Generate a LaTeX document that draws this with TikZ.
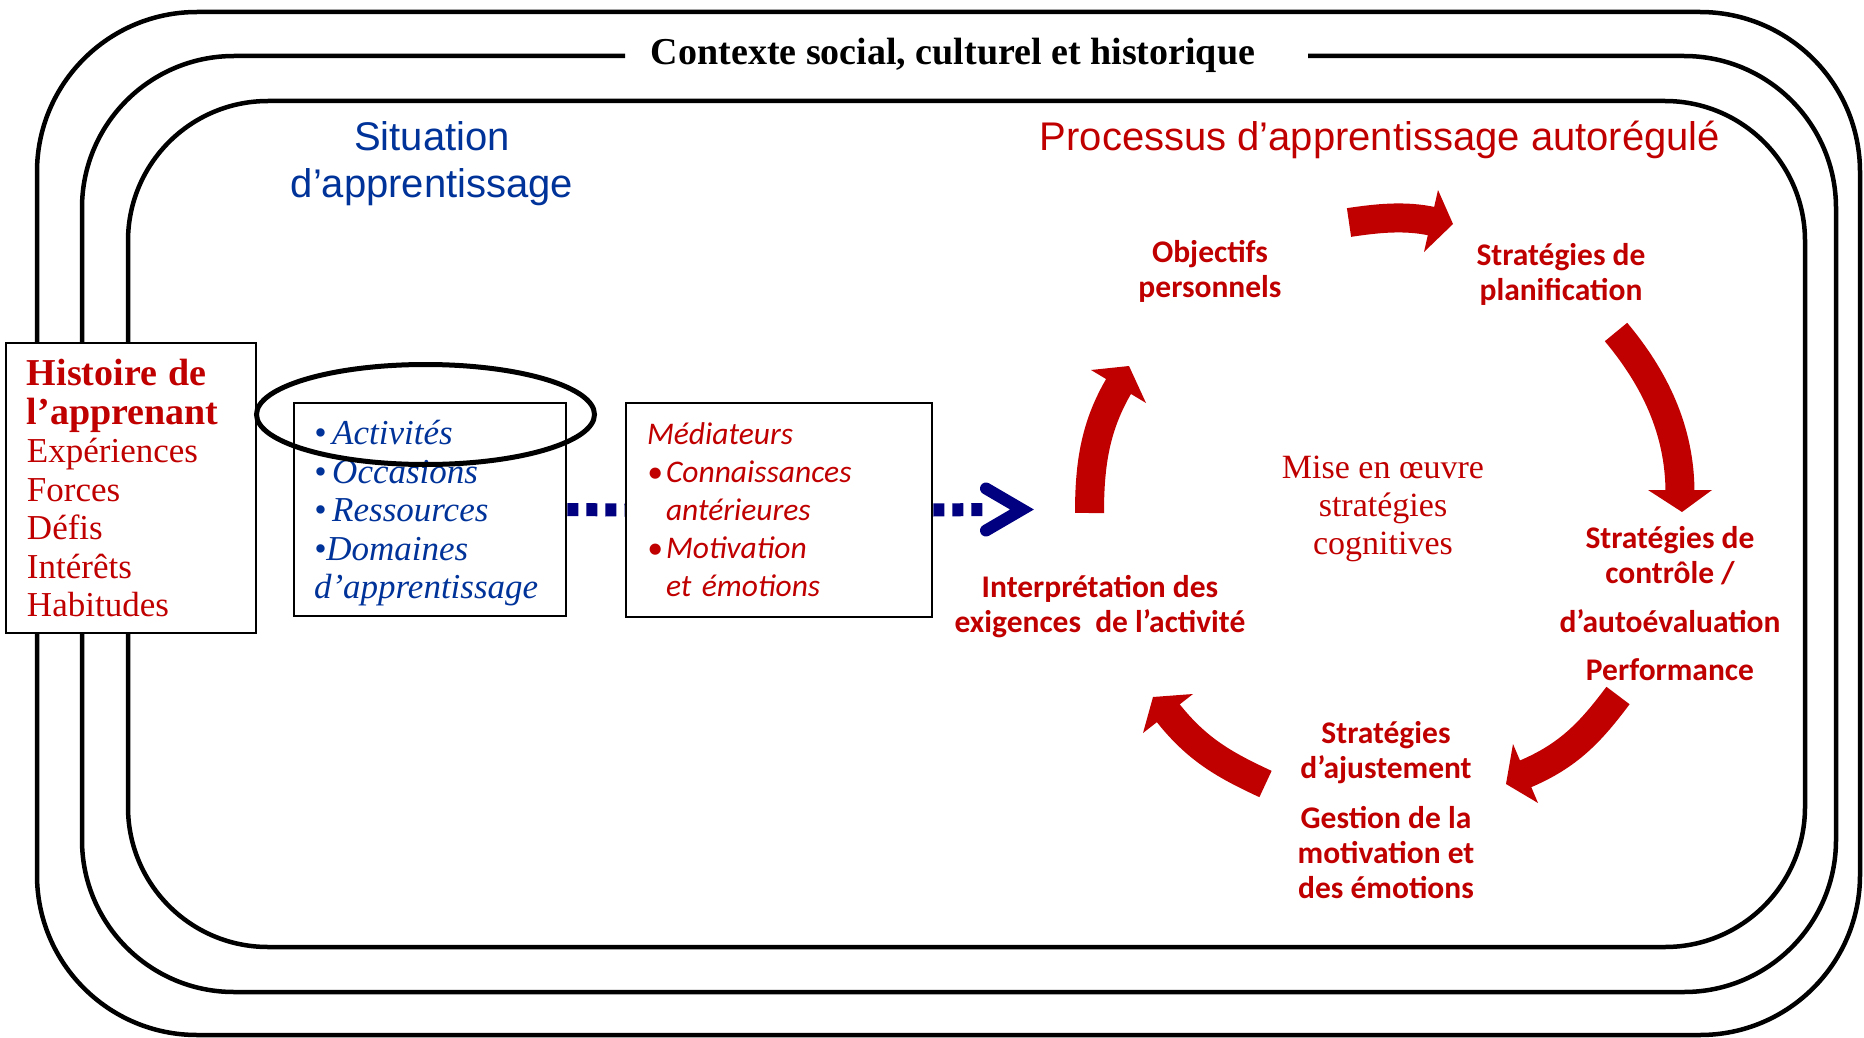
\documentclass[tikz,border=0pt]{standalone}
\usepackage{fontspec}
\setmainfont{Liberation Serif}
\newfontfamily\carl{Carlito}
\newfontfamily\arl{Liberation Sans}
\usetikzlibrary{shapes.geometric}
\definecolor{rd}{RGB}{192,0,0}
\definecolor{bl}{RGB}{0,51,153}
\definecolor{nv}{RGB}{0,0,128}
\newcommand\redarrow[7]{%
  \fill[rd] #5 -- #6 -- #7 -- cycle;
  \draw[rd, line width=29pt] #1 .. controls #2 and #3 .. #4;}
\begin{document}
\begin{tikzpicture}[x=1pt,y=-1pt,
  frame/.style={draw=black, line width=4.5pt},
  boxx/.style={draw=black, line width=2.6pt, fill=white, inner ysep=0pt, align=left},
  lab/.style={text=rd, font=\carl\bfseries\fontsize{31.5}{35}\selectfont, align=center, inner sep=0pt, anchor=north},
  navdash/.style={draw=nv, line width=13pt, dash pattern=on 11pt off 8pt}]
\useasboundingbox (0,0) rectangle (1864,1038);
\fill[white] (0,0) rectangle (1864,1038);

% nested frames
\draw[frame, rounded corners=160pt] (37,12) rectangle (1860,1035);
\draw[frame, rounded corners=152pt] (625,56) -- (82,56) -- (82,992) -- (1836,992) -- (1836,56) -- (1308,56);
\draw[frame, rounded corners=140pt] (128,101) rectangle (1805,947);

% titles
\node[anchor=base, inner sep=0pt, font=\fontsize{38}{44}\selectfont\bfseries] (ctx) at (953,65) {Contexte social, culturel et historique};
\node[anchor=north, inner sep=0pt, text=bl, align=center, font=\arl\fontsize{40}{47}\selectfont] (sit) at (432,121) {Situation\\d’apprentissage};
\node[anchor=base, inner sep=0pt, text=rd, font=\arl\fontsize{40}{47}\selectfont] (proc) at (1380,150) {Processus d’apprentissage autorégulé};

% learner history box
\node[boxx, text=rd, minimum width=250pt, minimum height=290pt, inner xsep=21pt, text width=208pt,
  font=\fontsize{35}{38.5}\selectfont] (hist) at (131,488)
  {{\fontsize{38}{38.5}\selectfont\bfseries Histoire de}\\
   {\fontsize{38}{38.5}\selectfont\bfseries l’apprenant}\\
   Expériences\\Forces\\Défis\\Intérêts\\Habitudes};

% situation box
\node[boxx, text=bl, minimum width=272pt, minimum height=213pt, inner xsep=20pt, text width=232pt,
  font=\itshape\fontsize{35}{38.5}\selectfont] (sbox) at (430,509.5)
  {\rule{0pt}{32pt}•\hspace{6pt}Activités\\•\hspace{6pt}Occasions\\•\hspace{6pt}Ressources\\•Domaines\\d’apprentissage};

% mediators box
\node[boxx, text=rd, minimum width=306pt, minimum height=214pt, inner xsep=21pt, text width=264pt,
  font=\carl\itshape\fontsize{31.5}{38}\selectfont] (mbox) at (779,510)
  {Médiateurs\\
   \makebox[19pt][l]{•}Connaissances\\
   \hspace*{19pt}antérieures\\
   \makebox[19pt][l]{•}Motivation\\
   \hspace*{19pt}et émotions};

% highlight ellipse
\node[draw=black, ellipse, line width=5pt, minimum width=338pt, minimum height=100pt, inner sep=0pt] (hl) at (425.5,414.5) {};

% dotted navy connectors
\coordinate (tip) at (1022,509.5);
\draw[navdash] (sbox.east) -- (mbox.west);
\draw[navdash] (mbox.east) -- ([xshift=-35pt]tip);
\draw[nv, line width=12pt, line cap=round, line join=miter] ([shift={(-36,-21)}]tip) -- (tip) -- ([shift={(-36,21)}]tip);

% cycle labels
\node[lab] (obj) at (1210,240) {Objectifs\\personnels};
\node[lab] (plan) at (1561,243) {Stratégies de\\planification};
\node[lab] (ctrl) at (1670,526) {Stratégies de\\contrôle /\\[14pt]d’autoévaluation\\[13pt]Performance};
\node[lab] (ajust) at (1386,721) {Stratégies\\d’ajustement\\[15pt]Gestion de la\\motivation et\\des émotions};
\node[lab] (interp) at (1100,575) {Interprétation des\\exigences\ \ de l’activité};
\node[anchor=north, inner sep=0pt, text=rd, align=center, font=\fontsize{34}{38}\selectfont] (mise) at (1383,456) {Mise en œuvre\\stratégies\\cognitives};

% red curved block arrows
\redarrow{(1349,222.5)}{(1376,218.5)}{(1404.7,215)}{(1434,221.7)}{(1438,190)}{(1453,224)}{(1424,252)}
\redarrow{(1616,332)}{(1654.4,378)}{(1680,430)}{(1680,493)}{(1648,490)}{(1682,512)}{(1712,490)}
\redarrow{(1618,695.5)}{(1591,731.5)}{(1569,755.5)}{(1524.7,774.2)}{(1513,744)}{(1506,784)}{(1538,803)}
\redarrow{(1265.5,784)}{(1224.5,765)}{(1196.7,749.5)}{(1167,711.6)}{(1193,694)}{(1153,697)}{(1143,733)}
\redarrow{(1089.5,513)}{(1089.5,463)}{(1095.5,425)}{(1120,384)}{(1091,370)}{(1129,366)}{(1146,403)}
\end{tikzpicture}
\end{document}
